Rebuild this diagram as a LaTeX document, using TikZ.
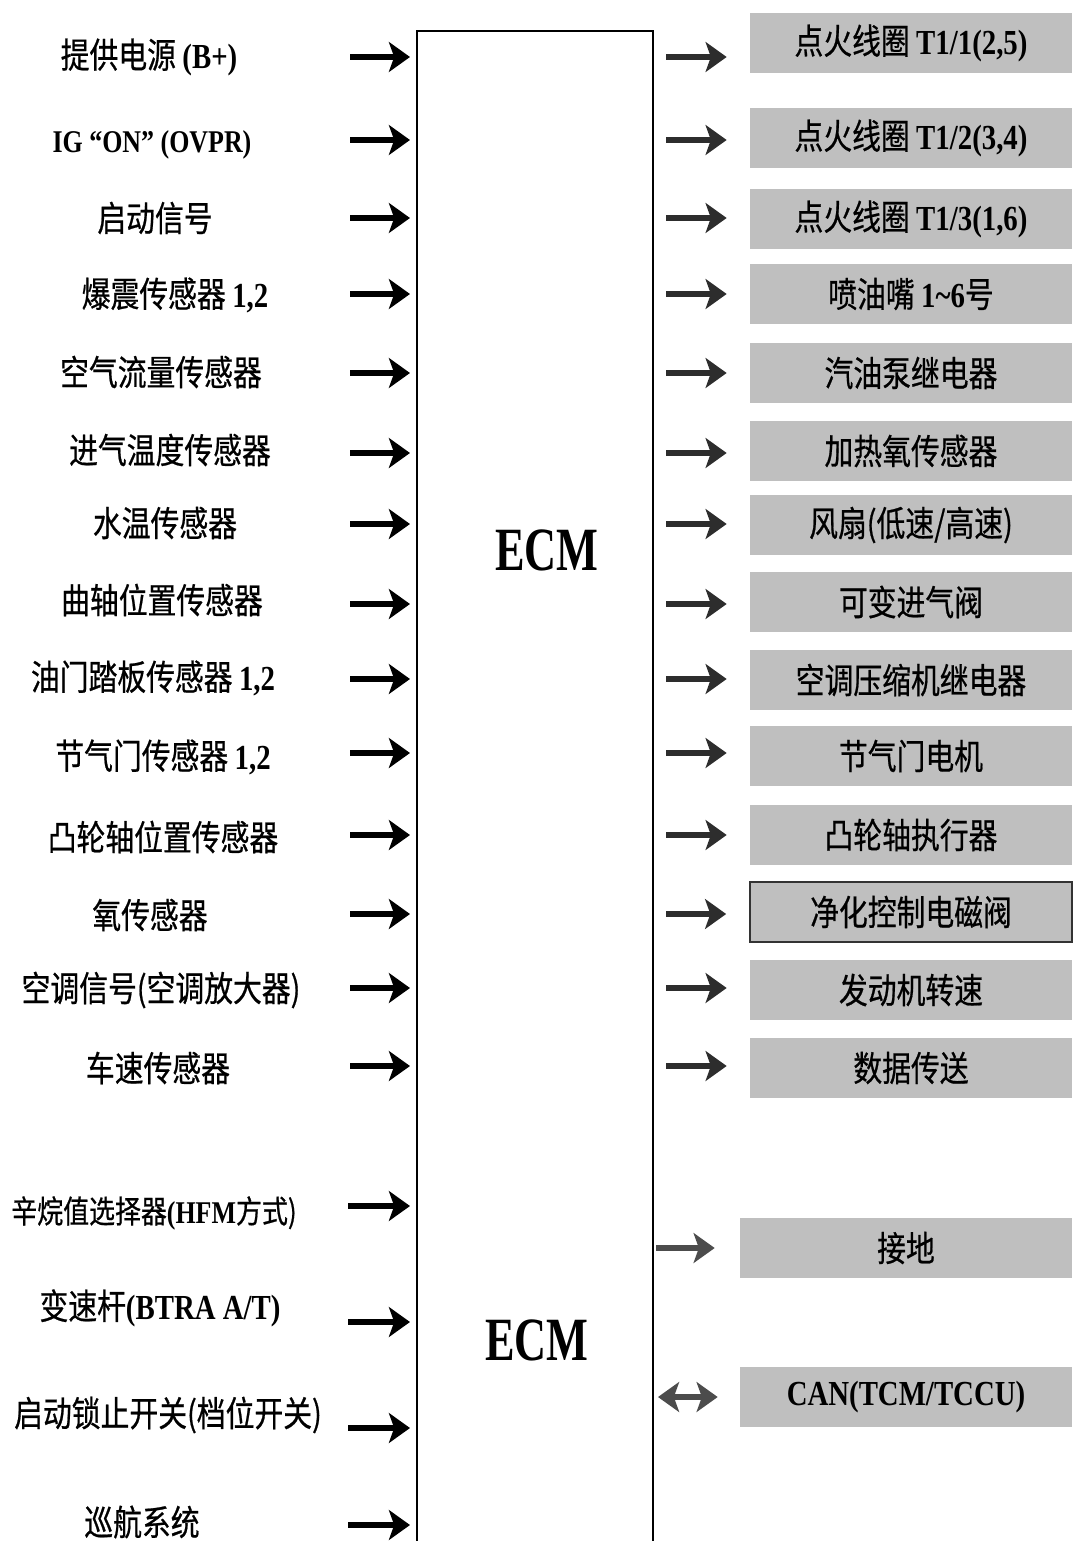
\documentclass[tikz,border=0pt]{standalone}
\usepackage{fontspec}
\setmainfont[FakeStretch=0.82]{Liberation Serif}
\newfontfamily\cjk[FakeStretch=0.82, FakeBold=0.6]{Noto Sans CJK SC}
\newfontfamily\narrowrm[FakeStretch=0.72]{Liberation Serif}
\usetikzlibrary
  {
    arrows.meta,  % Stealth arrow heads
    positioning,  % place nodes relative to other nodes
  }

\definecolor{boxgray}{RGB}{191,191,191}
\definecolor{arrowgray}{RGB}{45,45,45}
\newcommand\lat[1]{{\rmfamily\bfseries #1}}

\tikzset{
  inlabel/.style={font=\cjk\fontsize{20}{24}\selectfont, inner sep=0},
  outbox/.style={fill=boxgray, inner sep=0, minimum width=6.44cm,
    minimum height=1.2cm, font=\cjk\fontsize{20}{24}\selectfont},
  ecmlabel/.style={font=\narrowrm\bfseries\fontsize{35}{38}\selectfont},
  sig/.style={line width=3.2pt, draw=black,
    -{Stealth[length=12pt, width=17pt, inset=3pt]}},
  outsig/.style={sig, draw=arrowgray, shorten <=0.26cm, shorten >=0.46cm},
}

\begin{document}
\begin{tikzpicture}[x=0.02cm, y=-0.02cm]
    \useasboundingbox (0,0) rectangle (1072,1541);

    % ECM block, open at the bottom
    \coordinate (ecmL) at (417,0);
    \coordinate (ecmR) at (653,0);
    \draw[line width=0.8pt] (417,1541) -- (417,31) -- (653,31) -- (653,1541);
    \node (ecm1) [ecmlabel] at (547,550) {ECM};
    \node (ecm2) [ecmlabel] at (537,1340) {ECM};

    % rows of the signal arrows
    \coordinate (r1) at (350,57);
    \coordinate (r2) at (350,140);
    \coordinate (r3) at (350,218);
    \coordinate (r4) at (350,294);
    \coordinate (r5) at (350,373);
    \coordinate (r6) at (350,453);
    \coordinate (r7) at (350,524);
    \coordinate (r8) at (350,604);
    \coordinate (r9) at (350,679);
    \coordinate (r10) at (350,753);
    \coordinate (r11) at (350,835);
    \coordinate (r12) at (350,914);
    \coordinate (r13) at (350,988);
    \coordinate (r14) at (350,1066);
    \coordinate (r15) at (348,1206);
    \coordinate (r16) at (348,1322);
    \coordinate (r17) at (348,1428);
    \coordinate (r18) at (348,1525);

    % inputs
    \node (i1) [inlabel] at (149,57) {提供电源 \lat{(B+)}};
    \node (i2) [inlabel, font=\cjk\fontsize{18}{22}\selectfont] at (152,145) {\lat{IG “ON” (OVPR)}};
    \node (i3) [inlabel] at (155,218) {启动信号};
    \node (i4) [inlabel] at (175,295) {爆震传感器 \lat{1,2}};
    \node (i5) [inlabel] at (161,372) {空气流量传感器};
    \node (i6) [inlabel] at (170,450) {进气温度传感器};
    \node (i7) [inlabel] at (165,523) {水温传感器};
    \node (i8) [inlabel] at (162,600) {曲轴位置传感器};
    \node (i9) [inlabel] at (153,678) {油门踏板传感器 \lat{1,2}};
    \node (i10) [inlabel] at (163,757) {节气门传感器 \lat{1,2}};
    \node (i11) [inlabel] at (163,837) {凸轮轴位置传感器};
    \node (i12) [inlabel] at (150,915) {氧传感器};
    \node (i13) [inlabel] at (161,990) {空调信号(空调放大器)};
    \node (i14) [inlabel] at (158,1068) {车速传感器};
    \node (i15) [inlabel, font=\cjk\fontsize{18}{22}\selectfont] at (154,1213) {辛烷值选择器\lat{(HFM}方式)};
    \node (i16) [inlabel] at (160,1308) {变速杆\lat{(BTRA A/T)}};
    \node (i17) [inlabel] at (168,1415) {启动锁止开关(档位开关)};
    \node (i18) [inlabel] at (142,1522) {巡航系统};

    % outputs
    \node (o1) [outbox] at (911,43) {点火线圈 \lat{T1/1(2,5)}};
    \node (o2) [outbox] at (911,138) {点火线圈 \lat{T1/2(3,4)}};
    \node (o3) [outbox] at (911,219) {点火线圈 \lat{T1/3(1,6)}};
    \node (o4) [outbox] at (911,294) {喷油嘴 \lat{1\char`\~6}号};
    \node (o5) [outbox] at (911,373) {汽油泵继电器};
    \node (o6) [outbox] at (911,451) {加热氧传感器};
    \node (o7) [outbox] at (911,525) {风扇(低速/高速)};
    \node (o8) [outbox] at (911,602) {可变进气阀};
    \node (o9) [outbox] at (911,680) {空调压缩机继电器};
    \node (o10) [outbox] at (911,756) {节气门电机};
    \node (o11) [outbox] at (911,835) {凸轮轴执行器};
    \node (o12) [outbox, draw=black!80, line width=1pt] at (911,912) {净化控制电磁阀};
    \node (o13) [outbox] at (911,990) {发动机转速};
    \node (o14) [outbox] at (911,1068) {数据传送};
    \node (gnd) [outbox, minimum width=6.64cm] at (906,1248) {接地};
    \node (can) [outbox, minimum width=6.64cm] at (906,1397) {\lat{CAN(TCM/TCCU)}};

    % input arrows
    \draw[sig, shorten >=0.14cm] (r1) -- (r1 -| ecmL);
    \draw[sig, shorten >=0.14cm] (r2) -- (r2 -| ecmL);
    \draw[sig, shorten >=0.14cm] (r3) -- (r3 -| ecmL);
    \draw[sig, shorten >=0.14cm] (r4) -- (r4 -| ecmL);
    \draw[sig, shorten >=0.14cm] (r5) -- (r5 -| ecmL);
    \draw[sig, shorten >=0.14cm] (r6) -- (r6 -| ecmL);
    \draw[sig, shorten >=0.14cm] (r7) -- (r7 -| ecmL);
    \draw[sig, shorten >=0.14cm] (r8) -- (r8 -| ecmL);
    \draw[sig, shorten >=0.14cm] (r9) -- (r9 -| ecmL);
    \draw[sig, shorten >=0.14cm] (r10) -- (r10 -| ecmL);
    \draw[sig, shorten >=0.14cm] (r11) -- (r11 -| ecmL);
    \draw[sig, shorten >=0.14cm] (r12) -- (r12 -| ecmL);
    \draw[sig, shorten >=0.14cm] (r13) -- (r13 -| ecmL);
    \draw[sig, shorten >=0.14cm] (r14) -- (r14 -| ecmL);
    \draw[sig, shorten >=0.14cm] (r15) -- (r15 -| ecmL);
    \draw[sig, shorten >=0.14cm] (r16) -- (r16 -| ecmL);
    \draw[sig, shorten >=0.14cm] (r17) -- (r17 -| ecmL);
    \draw[sig, shorten >=0.14cm] (r18) -- (r18 -| ecmL);

    % output arrows
    \draw[outsig] (r1 -| ecmR) -- (r1 -| o1.west);
    \draw[outsig] (r2 -| ecmR) -- (r2 -| o2.west);
    \draw[outsig] (r3 -| ecmR) -- (r3 -| o3.west);
    \draw[outsig] (r4 -| ecmR) -- (r4 -| o4.west);
    \draw[outsig] (r5 -| ecmR) -- (r5 -| o5.west);
    \draw[outsig] (r6 -| ecmR) -- (r6 -| o6.west);
    \draw[outsig] (r7 -| ecmR) -- (r7 -| o7.west);
    \draw[outsig] (r8 -| ecmR) -- (r8 -| o8.west);
    \draw[outsig] (r9 -| ecmR) -- (r9 -| o9.west);
    \draw[outsig] (r10 -| ecmR) -- (r10 -| o10.west);
    \draw[outsig] (r11 -| ecmR) -- (r11 -| o11.west);
    \draw[outsig] (r12 -| ecmR) -- (r12 -| o12.west);
    \draw[outsig] (r13 -| ecmR) -- (r13 -| o13.west);
    \draw[outsig] (r14 -| ecmR) -- (r14 -| o14.west);
    \draw[outsig, draw=black!70, shorten <=0.06cm, shorten >=0.5cm] (ecmR |- gnd.west) -- (gnd.west);
    \draw[outsig, draw=black!70,
      {Stealth[length=12pt, width=17pt, inset=3pt]}-{Stealth[length=12pt, width=17pt, inset=3pt]},
      shorten <=0.1cm, shorten >=0.44cm] (ecmR |- can.west) -- (can.west);
  \end{tikzpicture}
\end{document}
